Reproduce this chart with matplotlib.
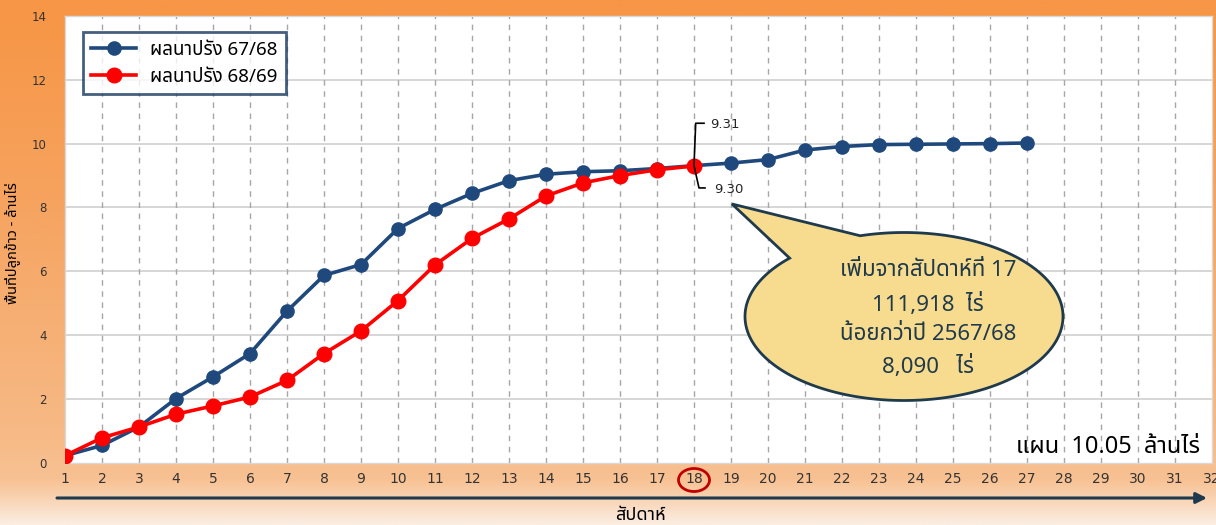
import numpy as np
import matplotlib
matplotlib.use('Agg')
import matplotlib.pyplot as plt
from matplotlib import font_manager as fm
from matplotlib.ft2font import FT2Font
from matplotlib.patches import Polygon, Ellipse
from matplotlib.colors import LinearSegmentedColormap

# ---------------- data ----------------
x_ticks = list(range(1, 33))
y_ticks = [0, 2, 4, 6, 8, 10, 12, 14]

weeks_6768 = list(range(1, 28))
area_6768 = [0.22, 0.54, 1.12, 2.01, 2.69, 3.42, 4.75, 5.87, 6.21, 7.34,
             7.94, 8.44, 8.84, 9.04, 9.12, 9.15, 9.22, 9.31, 9.39, 9.50,
             9.80, 9.91, 9.97, 9.98, 9.99, 10.00, 10.02]
weeks_6869 = list(range(1, 19))
area_6869 = [0.22, 0.78, 1.12, 1.52, 1.78, 2.06, 2.58, 3.42, 4.13, 5.08,
             6.20, 7.03, 7.64, 8.36, 8.77, 9.00, 9.18, 9.30]

label_6768 = 'ผลนาปรัง 67/68'
label_6869 = 'ผลนาปรัง 68/69'
current_week = 18
bubble_lines = ['เพิ่มจากสัปดาห์ที่ 17', '111,918  ไร่', 'น้อยกว่าปี 2567/68', '8,090   ไร่']
plan_text = 'แผน  10.05  ล้านไร่'
x_label = 'สัปดาห์'
y_label = 'พื้นที่ปลูกข้าว - ล้านไร่'

# ---------------- fonts ----------------
def find_thai():
    fams = []
    for f in fm.fontManager.ttflist:
        try:
            if FT2Font(f.fname).get_char_index(0x0E1C) and f.name not in fams:
                fams.append(f.name)
        except Exception:
            pass
    for pref in ['Tahoma', 'Noto Sans Thai', 'Noto Sans Thai UI', 'Loma', 'Garuda', 'Sarabun']:
        if pref in fams:
            return pref
    return fams[0] if fams else 'DejaVu Sans'

thai = find_thai()
plt.rcParams['font.family'] = [thai, 'DejaVu Sans']

C_BLUE = '#1F497D'
C_RED = '#FF0000'
C_NAVY = '#1F3A4D'

W, H = 1216, 525
fig = plt.figure(figsize=(W / 100, H / 100), dpi=100)

# background gradient
bg = fig.add_axes([0, 0, 1, 1], zorder=-10)
cmap = LinearSegmentedColormap.from_list('bg', [
    (0.0, '#F79646'), (0.03, '#F79646'), (0.38, '#F6A35F'), (0.57, '#F6AD70'),
    (0.82, '#F7B985'), (0.915, '#F8C193'), (0.95, '#F9D3B2'), (1.0, '#FBEDE2')])
grad = np.linspace(0, 1, 256).reshape(-1, 1)
bg.imshow(grad, aspect='auto', cmap=cmap, extent=[0, 1, 0, 1], origin='upper')
bg.set_axis_off()

# main axes (pixel layout)
L, R, T, B = 65, 1212, 16, 462.7
ax = fig.add_axes([L / W, 1 - B / H, (R - L) / W, (B - T) / H])
ax.set_facecolor('white')
ax.set_xlim(1, 32)
ax.set_ylim(0, 14)
ax.set_xticks(x_ticks)
ax.set_yticks(y_ticks)
ax.tick_params(axis='both', length=0, colors='#333333')
ax.tick_params(axis='x', pad=7, labelsize=10)
ax.tick_params(axis='y', pad=13, labelsize=8.5)
for lab in ax.get_xticklabels() + ax.get_yticklabels():
    lab.set_family('DejaVu Sans')
for s in ax.spines.values():
    s.set_color('#D9D9D9')
    s.set_linewidth(1)

for yv in y_ticks[1:-1]:
    ax.axhline(yv, color='#D0D0D0', lw=1.2, zorder=1)
for xv in x_ticks[1:-1]:
    ax.axvline(xv, color='#A6A6A6', lw=1, ls=(0, (4, 4)), zorder=1)

ax.plot(weeks_6768, area_6768, color=C_BLUE, lw=2.6, marker='o', ms=9.5,
        mec=C_BLUE, mfc=C_BLUE, label=label_6768, zorder=3)
ax.plot(weeks_6869, area_6869, color=C_RED, lw=2.6, marker='o', ms=10.5,
        mec=C_RED, mfc=C_RED, label=label_6869, zorder=4)

leg = ax.legend(loc='upper left', bbox_to_anchor=(0.0157, 0.964), fontsize=13.5,
                frameon=True, fancybox=False, handlelength=2.4, borderpad=0.45,
                labelspacing=0.5, handletextpad=0.7, borderaxespad=0)
leg.get_frame().set_edgecolor('#17375E')
leg.get_frame().set_linewidth(2)

# pixel -> data scale helpers
sx = (R - L) / (32 - 1)
sy = (B - T) / 14
i18 = weeks_6768.index(current_week)
v_a = area_6768[i18]
v_b = area_6869[weeks_6869.index(current_week)]

def off(dx, dy, base_y):
    return current_week + dx / sx, base_y + dy / sy

p = [off(10, 42.4, v_a), off(1.7, 42.4, v_a), off(0, 0, v_a), off(5, -22.3, v_a), off(11, -22.3, v_a)]
ax.plot([q[0] for q in p], [q[1] for q in p], color='black', lw=1.2, zorder=6)
tx, ty = off(16, 41, v_a)
ax.text(tx, ty, f'{v_a:.2f}', fontsize=9.5, ha='left', va='center', family='DejaVu Sans',
        color='#262626')
tx, ty = off(20, -24, v_a)
ax.text(tx, ty, f'{v_b:.2f}', fontsize=9.5, ha='left', va='center', family='DejaVu Sans',
        color='#262626')

# speech bubble (axes fraction)
def fr(px, py):
    return (px - L) / (R - L), (B - py) / (B - T)

cxp, cyp, wp, hp = 904, 316.5, 318, 168
tipx, tipy = fr(732, 204)
cx, cy = fr(cxp, cyp)
rx, ry = wp / 2 / (R - L), hp / 2 / (B - T)
th = np.radians(np.linspace(136, 466, 300))
pts = [(cx + rx * np.cos(t), cy + ry * np.sin(t)) for t in th]
pts.append((tipx, tipy))
bubble = Polygon(pts, closed=True, transform=ax.transAxes, facecolor='#F7DC8F',
                 edgecolor=C_NAVY, lw=2, zorder=7)
ax.add_patch(bubble)
for ypx, txt in zip([270, 304, 335, 366], bubble_lines):
    bx, by = fr(928, ypx)
    ax.text(bx, by, txt, transform=ax.transAxes, fontsize=16, color='#203A4C',
            ha='center', va='center', zorder=8)

# plan text
px_, py_ = fr(1200, 447)
ax.text(px_, py_, plan_text, transform=ax.transAxes, fontsize=17, color='black',
        ha='right', va='center', zorder=8)

# circle around current week tick
ax.add_patch(Ellipse((current_week, -(480 - B) / sy), 31 / sx, 23 / sy, fill=False,
                     edgecolor='#C00000', lw=2, clip_on=False, zorder=8))

# axis arrow
a0 = fr(57, 498)
a1 = fr(1207, 498)
ax.annotate('', xy=a1, xytext=a0, xycoords='axes fraction', textcoords='axes fraction',
            arrowprops=dict(arrowstyle='-|>', lw=2.2, color=C_NAVY, mutation_scale=16,
                            shrinkA=0, shrinkB=0), annotation_clip=False)

fig.text(640 / W, 1 - 515 / H, x_label, fontsize=13, ha='center', va='center', color='black')
fig.text(12 / W, 1 - 243 / H, y_label, fontsize=10.5, ha='center', va='center',
         rotation=90, color='black')

fig.savefig('out.png', dpi=100)
